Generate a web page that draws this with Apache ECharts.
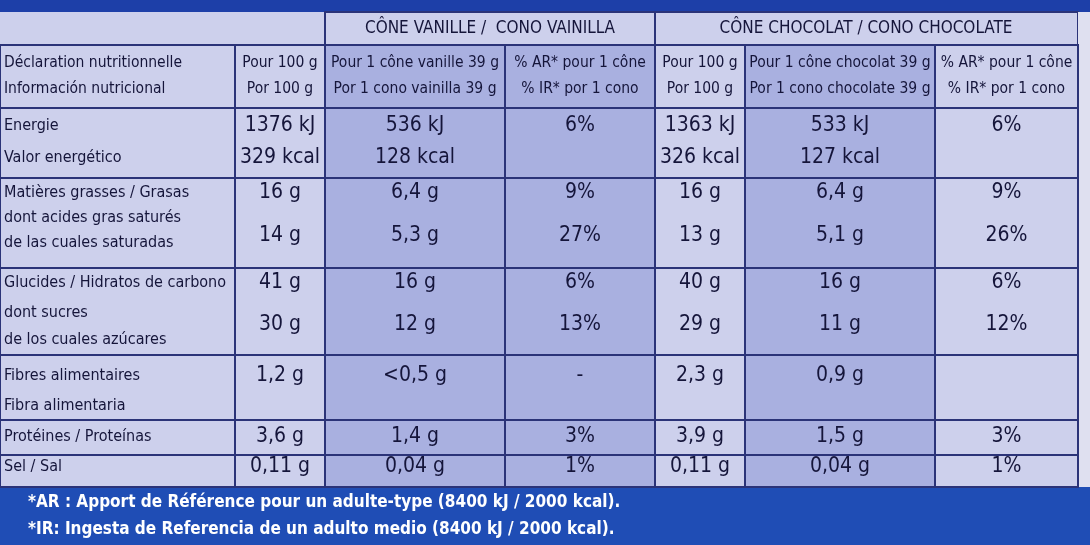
<!DOCTYPE html>
<html><head><meta charset="utf-8">
<script src="https://cdn.jsdelivr.net/npm/echarts@6/dist/echarts.min.js"></script>
<style>html,body{margin:0;padding:0;background:#c9cbe9}#c{width:1090px;height:545px}</style>
</head><body><div id="c"></div>
<script>
var groupTitles = ['CÔNE VANILLE /  CONO VAINILLA', 'CÔNE CHOCOLAT / CONO CHOCOLATE'];
var headers = [
  ['Déclaration nutritionnelle', 'Información nutricional'],
  ['Pour 100 g', 'Por 100 g'],
  ['Pour 1 cône vanille 39 g', 'Por 1 cono vainilla 39 g'],
  ['% AR* pour 1 cône', '% IR* por 1 cono'],
  ['Pour 100 g', 'Por 100 g'],
  ['Pour 1 cône chocolat 39 g', 'Por 1 cono chocolate 39 g'],
  ['% AR* pour 1 cône', '% IR* por 1 cono']
];
var rowLabels = [
  ['Energie', 'Valor energético'],
  ['Matières grasses / Grasas', 'dont acides gras saturés', 'de las cuales saturadas'],
  ['Glucides / Hidratos de carbono', 'dont sucres', 'de los cuales azúcares'],
  ['Fibres alimentaires', 'Fibra alimentaria'],
  ['Protéines / Proteínas'],
  ['Sel / Sal']
];
// values per row group: each entry = list of lines per column
var vanille100 = [['1376 kJ', '329 kcal'], ['16 g', '14 g'], ['41 g', '30 g'], ['1,2 g'], ['3,6 g'], ['0,11 g']];
var vanilleCone = [['536 kJ', '128 kcal'], ['6,4 g', '5,3 g'], ['16 g', '12 g'], ['<0,5 g'], ['1,4 g'], ['0,04 g']];
var vanilleAR = [['6%', ''], ['9%', '27%'], ['6%', '13%'], ['-'], ['3%'], ['1%']];
var choco100 = [['1363 kJ', '326 kcal'], ['16 g', '13 g'], ['40 g', '29 g'], ['2,3 g'], ['3,9 g'], ['0,11 g']];
var chocoCone = [['533 kJ', '127 kcal'], ['6,4 g', '5,1 g'], ['16 g', '11 g'], ['0,9 g'], ['1,5 g'], ['0,04 g']];
var chocoAR = [['6%', ''], ['9%', '26%'], ['6%', '12%'], [''], ['3%'], ['1%']];
var footnotes = ['*AR : Apport de Référence pour un adulte-type (8400 kJ / 2000 kcal).',
                 '*IR: Ingesta de Referencia de un adulto medio (8400 kJ / 2000 kcal).'];

// layout
var colEdges = [0, 235, 325, 505, 655, 745, 935, 1078];
var rowEdges = [108, 178, 268, 355, 420, 455, 487];
var labelY = [[126, 158], [193, 218, 243], [283, 313, 340], [376, 406], [437], [467]];
var valueY = [[126, 158], [193, 236], [283, 325], [376], [437], [467]];
var colFill = ['#cdd0ec', '#cdd0ec', '#a9b0e0', '#a9b0e0', '#cdd0ec', '#a9b0e0', '#cdd0ec'];
var cols = [vanille100, vanilleCone, vanilleAR, choco100, chocoCone, chocoAR];

var cells = [], texts = [];
function mid(c) { return (colEdges[c] + colEdges[c + 1]) / 2; }
cells.push([0, 0, 1090, 12, '#1d3fa8', 0]);
cells.push([0, 487, 1090, 545, '#1f4db5', 0]);
cells.push([0, 12, 325, 45, '#cdd0ec', 0]);
cells.push([325, 12, 655, 45, '#cdd0ec', 1]);
cells.push([655, 12, 1078, 45, '#cdd0ec', 1]);
cells.push([1078, 12, 1090, 487, '#dfe0f0', 0]);
texts.push([490, 29, groupTitles[0], 'center', 17, '#15153a']);
texts.push([866, 29, groupTitles[1], 'center', 17, '#15153a']);
for (var c = 0; c < 7; c++) {
  cells.push([colEdges[c], 45, colEdges[c + 1], 108, colFill[c], 1]);
  var x = c === 0 ? 4 : mid(c);
  texts.push([x, 63, headers[c][0], c === 0 ? 'left' : 'center', 15.5, '#15153a']);
  texts.push([x, 89, headers[c][1], c === 0 ? 'left' : 'center', 15.5, '#15153a']);
  for (var r = 0; r < rowLabels.length; r++) {
    cells.push([colEdges[c], rowEdges[r], colEdges[c + 1], rowEdges[r + 1], colFill[c], 1]);
    if (c === 0) {
      rowLabels[r].forEach(function (t, i) { texts.push([4, labelY[r][i], t, 'left', 16, '#15153a']); });
    } else {
      cols[c - 1][r].forEach(function (t, i) { if (t) texts.push([mid(c), valueY[r][i], t, 'center', 21, '#15153a']); });
    }
  }
}
texts.push([28, 503, footnotes[0], 'left', 17, '#ffffff']);
texts.push([28, 530, footnotes[1], 'left', 17, '#ffffff']);

var chart = echarts.init(document.getElementById('c'));
var FONT = "'Liberation Sans Narrow','DejaVu Sans Condensed',sans-serif";
chart.setOption({
  animation: false,
  grid: { left: 0, right: 0, top: 0, bottom: 0 },
  xAxis: { type: 'value', min: 0, max: 1090, show: false },
  yAxis: { type: 'value', min: 0, max: 545, inverse: true, show: false },
  series: [{
    type: 'custom', data: cells, silent: true,
    renderItem: function (params, api) {
      var p0 = api.coord([api.value(0), api.value(1)]);
      var p1 = api.coord([api.value(2), api.value(3)]);
      var d = cells[params.dataIndex];
      return { type: 'rect', shape: { x: p0[0], y: p0[1], width: p1[0] - p0[0], height: p1[1] - p0[1] },
        style: { fill: d[4], stroke: d[5] ? '#2b3378' : null, lineWidth: d[5] ? 2 : 0 } };
    }
  }, {
    type: 'custom', data: texts, silent: true,
    renderItem: function (params, api) {
      var d = texts[params.dataIndex];
      var p = api.coord([d[0], d[1]]);
      return { type: 'text', x: p[0], y: p[1],
        style: { text: d[2], textAlign: d[3], textVerticalAlign: 'middle', fill: d[5],
          font: (d[5] === '#ffffff' ? 'bold ' : '') + d[4] + 'px ' + FONT } };
    }
  }]
});
</script></body></html>
